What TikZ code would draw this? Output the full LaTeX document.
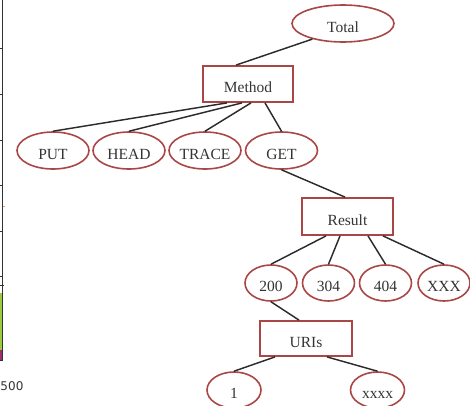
\documentclass[tikz,border=0pt]{standalone}
\usepackage{fontspec}
\setmainfont{Liberation Serif}
\newfontfamily\axisfont{DejaVu Sans}
\usetikzlibrary{shapes.geometric}
\definecolor{nodered}{HTML}{A94646}
\definecolor{txtgray}{HTML}{333333}
\definecolor{edgegray}{HTML}{2B2B2B}
\definecolor{axisgreen}{HTML}{9CCB3B}
\definecolor{axispurple}{HTML}{9E2F74}
\definecolor{axisorange}{HTML}{E8A060}
\tikzset{
  lbl/.style={font=\fontsize{15.5}{16}\selectfont, text=txtgray, text height=17pt, text depth=0pt, inner sep=0pt},
  ell/.style={lbl, ellipse, draw=nodered, line width=1.6pt},
  rectbox/.style={lbl, rectangle, draw=nodered, line width=1.8pt},
  edge/.style={draw=edgegray, line width=1.45pt},
  axisln/.style={draw=txtgray, line width=0.9pt}
}
\begin{document}
\begin{tikzpicture}[x=1pt, y=-1pt]
\path[use as bounding box] (0,0) rectangle (470,405);
% left-edge fragment
\fill[axisgreen] (0,293) rectangle (3,355);
\fill[axispurple] (0,350) rectangle (3,360);
\draw[axisln] (2.7,0) -- (2.7,360) -- (0,360);
\foreach \ty in {48.3,94,140,185.7,231,276.7}{\draw[axisln] (0,\ty) -- (2.7,\ty);}
\draw[axisln] (0,285) -- (4,285);
\draw[axisorange, line width=0.9pt] (2.7,206) -- (5,206);
\node[anchor=west, inner sep=0pt, text=txtgray, font=\axisfont\fontsize{12}{13}\selectfont] (axislbl) at (0.3,386) {500};
% nodes
\node[ell, minimum width=102pt, minimum height=37pt] (total) at (343,23.5) {Total};
\node[rectbox, minimum width=90pt, minimum height=36pt] (method) at (248,84) {Method};
\node[ell, minimum width=72pt, minimum height=37pt] (put) at (53,150.5) {PUT};
\node[ell, minimum width=72pt, minimum height=37pt] (head) at (129,150.5) {HEAD};
\node[ell, minimum width=72pt, minimum height=37pt] (trace) at (205,150.5) {TRACE};
\node[ell, minimum width=72pt, minimum height=37pt] (get) at (281.5,150.5) {GET};
\node[rectbox, minimum width=91pt, minimum height=37pt] (result) at (347.5,216.5) {Result};
\node[ell, minimum width=52pt, minimum height=36pt] (n200) at (271,283) {200};
\node[ell, minimum width=52pt, minimum height=36pt] (n304) at (328.5,283) {304};
\node[ell, minimum width=52pt, minimum height=36pt] (n404) at (385.5,283) {404};
\node[ell, minimum width=52pt, minimum height=36pt] (nxxx) at (444,283) {XXX};
\node[rectbox, minimum width=92pt, minimum height=35pt] (uris) at (306,338.5) {URIs};
\node[ell, minimum width=54pt, minimum height=36pt] (n1) at (234,390) {1};
\node[ell, minimum width=54pt, minimum height=36pt] (nxxxx) at (377.5,390) {xxxx};
% edges
\draw[edge] (total.207) -- ([xshift=-12pt]method.north);
\draw[edge] ([xshift=-21pt]method.south) -- (put.north);
\draw[edge] ([xshift=-6pt]method.south) -- (head.north);
\draw[edge] ([xshift=3pt]method.south) -- (trace.north);
\draw[edge] ([xshift=17pt]method.south) -- (get.north);
\draw[edge] (get.south) -- ([xshift=-2.5pt]result.north);
\draw[edge] ([xshift=-21.5pt]result.south) -- (n200.north);
\draw[edge] ([xshift=-7.5pt]result.south) -- (n304.north);
\draw[edge] ([xshift=20.5pt]result.south) -- (n404.north);
\draw[edge] ([xshift=35.5pt]result.south) -- (nxxx.north);
\draw[edge] (n200.south) -- ([xshift=-7pt]uris.north);
\draw[edge] ([xshift=-31pt]uris.south) -- (n1.north);
\draw[edge] ([xshift=21pt]uris.south) -- (nxxxx.north);
\end{tikzpicture}
\end{document}
